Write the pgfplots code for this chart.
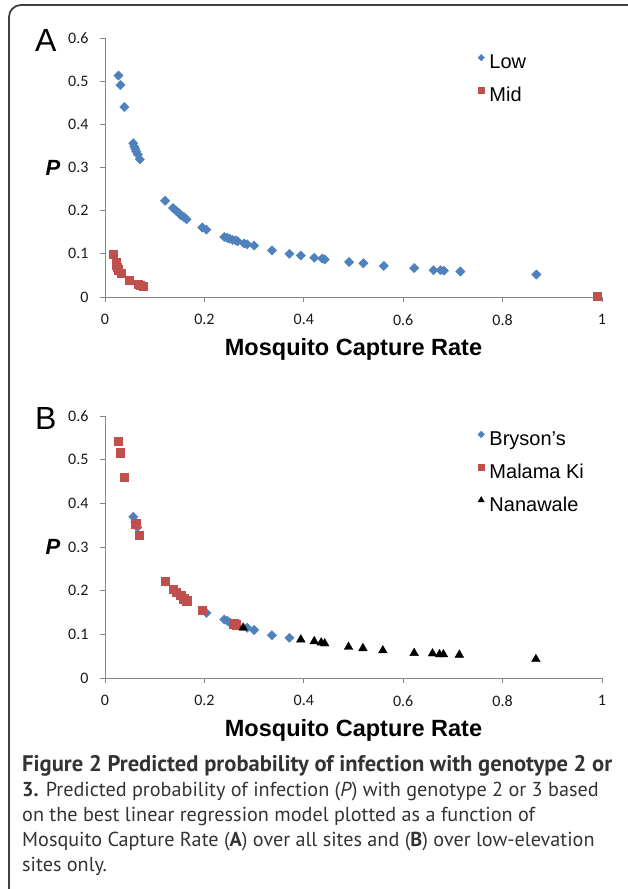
\documentclass[border=0pt]{standalone}
\usepackage{fontspec}
\setmainfont{Liberation Sans}
\newfontfamily\calibri{Carlito}
\newfontfamily\capfont{PT Sans}
\usepackage{pgfplots}
\pgfplotsset{compat=1.18}

\definecolor{lowblue}{HTML}{4F81BD}
\definecolor{midred}{HTML}{C0504D}
\definecolor{axgray}{HTML}{868686}
\definecolor{captxt}{HTML}{333333}

% Excel-like panel
\pgfplotsset{
  panel/.style={
    scale only axis, width=497pt,
    xmin=0, xmax=1, ymin=0, ymax=0.6,
    clip=false,
    axis lines*=left,
    axis line style={axgray, line width=0.9pt},
    xtick={0,0.2,0.4,0.6,0.8,1},
    ytick={0,0.1,0.2,0.3,0.4,0.5,0.6},
    tick align=outside, major tick length=5pt,
    tick style={axgray, line width=0.9pt},
    ticklabel style={font=\calibri\fontsize{16}{16}\selectfont, text=black!90},
    yticklabel style={xshift=-8pt},
    xticklabel style={yshift=-9pt},
    /pgf/number format/assume math mode=true,
    /pgf/number format/fixed,
    /pgf/number format/precision=1,
    xlabel={Mosquito Capture Rate},
    xlabel style={font=\fontsize{23.5}{23.5}\selectfont\bfseries,
      at={(axis description cs:0.5,0)}, anchor=center, yshift=-52pt},
    ylabel={P},
    ylabel style={font=\fontsize{22}{22}\selectfont\bfseries\itshape,
      rotate=-90, at={(axis description cs:0,0.5)}, anchor=center, xshift=-52pt},
    legend style={draw=none, fill=none, inner sep=0pt, row sep=13pt,
      font=\fontsize{20}{22}\selectfont, anchor=north west,
      cells={anchor=west},
      /tikz/every odd column/.append style={column sep=3pt}},
    legend image code/.code={
      \draw[#1, /tikz/every mark/.append style={scale=0.7}] plot coordinates {(0pt,5pt)};},
  },
  lowmark/.style={only marks, mark=square*, mark size=3.3pt,
    mark options={rotate=45, fill=lowblue, draw=lowblue}, color=lowblue},
  midmark/.style={only marks, mark=square*, mark size=4.2pt,
    mark options={fill=midred, draw=midred}, color=midred},
  nanmark/.style={only marks, mark=triangle*, mark size=5pt,
    mark options={fill=black, draw=black}, color=black},
}

\begin{document}
\begin{tikzpicture}
\path[use as bounding box] (0,0) rectangle (627pt,889pt);
\draw[line width=1.8pt, black!75, rounded corners=12pt]
  (9pt,-10pt) -- (9pt,884pt) -- (650pt,884pt);

% Panel A
\begin{axis}[panel, height=259pt, at={(105pt,592pt)}, anchor=south west,
  legend style={at={(rel axis cs:0.75,0.943)}}]
\addplot[lowmark] coordinates {
(0.027,0.513) (0.031,0.491) (0.039,0.440) (0.057,0.356) (0.059,0.348)
(0.061,0.343) (0.063,0.337) (0.066,0.330) (0.070,0.319) (0.121,0.223)
(0.137,0.206) (0.143,0.200) (0.149,0.194) (0.153,0.189) (0.159,0.185)
(0.164,0.180) (0.196,0.161) (0.204,0.156) (0.240,0.139) (0.246,0.137)
(0.251,0.135) (0.257,0.132) (0.263,0.131) (0.267,0.129) (0.280,0.124)
(0.286,0.122) (0.300,0.119) (0.336,0.108) (0.371,0.100) (0.394,0.096)
(0.421,0.091) (0.437,0.089) (0.442,0.087) (0.491,0.081) (0.520,0.078)
(0.561,0.072) (0.622,0.067) (0.661,0.062) (0.675,0.062) (0.682,0.061)
(0.715,0.059) (0.868,0.052)
};
\addlegendentry{Low}
\addplot[midmark] coordinates {
(0.017,0.099) (0.022,0.080) (0.023,0.075) (0.025,0.069) (0.027,0.063)
(0.032,0.055) (0.049,0.039) (0.067,0.030) (0.071,0.028) (0.077,0.025)
(0.990,0.002)
};
\addlegendentry{Mid}
\node[font=\fontsize{32}{32}\selectfont] at (axis description cs:-0.119,0.992) {A};
\end{axis}

% Panel B
\begin{axis}[panel, height=262pt, at={(105pt,211pt)}, anchor=south west,
  legend style={at={(rel axis cs:0.75,0.948)}}]
\addplot[lowmark] coordinates {
(0.057,0.369) (0.061,0.357) (0.065,0.345) (0.204,0.149) (0.240,0.134)
(0.246,0.131) (0.251,0.127) (0.286,0.115) (0.300,0.110) (0.336,0.098)
(0.371,0.092)
};
\addlegendentry{Bryson's}
\addplot[midmark] coordinates {
(0.027,0.542) (0.031,0.516) (0.039,0.460) (0.062,0.353) (0.069,0.327)
(0.121,0.222) (0.137,0.204) (0.143,0.196) (0.152,0.189) (0.158,0.182)
(0.164,0.177) (0.196,0.155) (0.259,0.124) (0.264,0.122)
};
\addlegendentry{Malama Ki}
\addplot[nanmark] coordinates {
(0.278,0.115) (0.394,0.088) (0.421,0.084) (0.435,0.081) (0.442,0.079)
(0.490,0.071) (0.519,0.068) (0.559,0.063) (0.622,0.057) (0.659,0.056)
(0.673,0.054) (0.681,0.054) (0.713,0.053) (0.867,0.043)
};
\addlegendentry{Nanawale}
\node[font=\fontsize{32}{32}\selectfont] at (axis description cs:-0.119,0.989) {B};
\end{axis}

% Caption
\begin{scope}[every node/.style={anchor=base west, inner sep=0pt,
    font=\capfont\fontsize{20.2}{24}\selectfont, text=captxt}]
\node at (22pt,117pt) {\resizebox{590pt}{!}{\bfseries Figure 2 Predicted probability of infection with genotype 2 or}};
\node at (22pt,92pt) {\textbf{3.} Predicted probability of infection (\textit{P}) with genotype 2 or 3 based};
\node at (22pt,67pt) {on the best linear regression model plotted as a function of};
\node at (22pt,42pt) {Mosquito Capture Rate (\textbf{A}) over all sites and (\textbf{B}) over low-elevation};
\node at (22pt,17pt) {sites only.};
\end{scope}
\end{tikzpicture}
\end{document}
